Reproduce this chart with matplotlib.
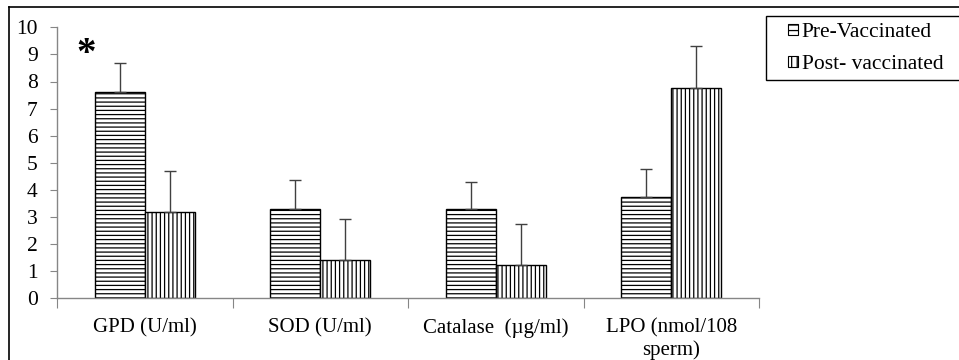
import numpy as np
import matplotlib
matplotlib.use("Agg")
import matplotlib.pyplot as plt
from matplotlib.patches import Patch, Rectangle
from matplotlib.lines import Line2D
from matplotlib.legend_handler import HandlerPatch

plt.rcParams['font.family'] = 'Liberation Serif'
plt.rcParams['hatch.linewidth'] = 0.9

# data
categories = ['GPD (U/ml)', 'SOD (U/ml)', 'Catalase  (\u00b5g/ml)', 'LPO (nmol/108\nsperm)']
pre_vals = [7.61, 3.28, 3.28, 3.75]
pre_err = [1.06, 1.08, 1.02, 1.02]
post_vals = [3.20, 1.42, 1.23, 7.75]
post_err = [1.51, 1.51, 1.51, 1.55]
series_names = ['Pre-Vaccinated', 'Post- vaccinated']

fig = plt.figure(figsize=(9.59, 3.6), dpi=100)
ax = fig.add_axes([57/959, 1-298.3/360, 702/959, 271/360])

x = np.arange(len(categories)) + 0.5
w = 0.285
zeros = [0]*len(categories)

ax.bar(x - w/2, pre_vals, w, color='white', edgecolor='black', linewidth=1, hatch='----')
ax.bar(x + w/2, post_vals, w, color='white', edgecolor='black', linewidth=1, hatch='||||')
ax.errorbar(x - w/2, pre_vals, yerr=[zeros, pre_err], fmt='none', ecolor='#404040',
            elinewidth=1, capsize=4, capthick=1)
ax.errorbar(x + w/2, post_vals, yerr=[zeros, post_err], fmt='none', ecolor='#404040',
            elinewidth=1, capsize=4, capthick=1)

ax.set_xlim(0, 4)
ax.set_ylim(0, 10)
ax.set_yticks(range(0, 11))
ax.set_xticks(range(0, 5))
ax.set_xticklabels([])
for s in ['top', 'right']:
    ax.spines[s].set_visible(False)
for s in ['left', 'bottom']:
    ax.spines[s].set_color('#868686')
    ax.spines[s].set_linewidth(1)
ax.tick_params(axis='y', colors='#868686', length=5, labelcolor='black', labelsize=15.5, pad=9)
ax.tick_params(axis='x', colors='#868686', length=7)

for xi, lab in zip(x, categories):
    ax.text(xi, -0.75, lab, ha='center', va='top', fontsize=15, linespacing=1.15)

ax.text(0.165, 9.0, '*', ha='center', va='center', fontsize=28, fontweight='bold')


def small_square(legend, orig_handle, xdescent, ydescent, width, height, fontsize):
    s = 7.5
    return Rectangle((-xdescent + width - s, -ydescent + (height - s) / 2), s, s)


handles = [Patch(facecolor='white', edgecolor='black', hatch='---', linewidth=0.8),
           Patch(facecolor='white', edgecolor='black', hatch='|||', linewidth=0.8)]
leg = fig.legend(handles, series_names, loc='upper left',
                 bbox_to_anchor=(766/959, 1-15.5/360, 200/959, 0), mode='expand',
                 fontsize=15.5, frameon=True, fancybox=False, framealpha=1,
                 handlelength=1.2, handleheight=0.7, handletextpad=0.15,
                 borderpad=0.3, labelspacing=0.55, borderaxespad=0,
                 handler_map={Patch: HandlerPatch(patch_func=small_square)})
leg.get_frame().set_edgecolor('black')
leg.get_frame().set_linewidth(1)

# outer frame (left and top edges visible)
fig.add_artist(Line2D([9/959, 9/959], [0, 1-7/360], color='black', linewidth=1.2))
fig.add_artist(Line2D([9/959, 1], [1-7/360, 1-7/360], color='black', linewidth=1.2))

fig.savefig('out.png', dpi=100)
